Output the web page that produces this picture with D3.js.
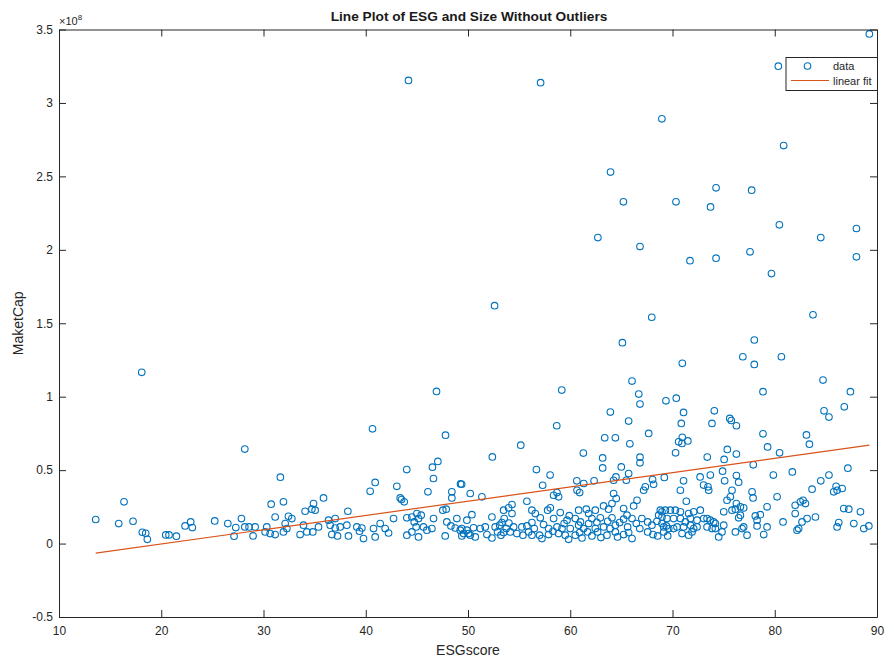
<!DOCTYPE html>
<html>
<head>
<meta charset="utf-8">
<script src="https://d3js.org/d3.v7.min.js"></script>
<style>
  body { margin: 0; background: #fff; }
  text { font-family: "Liberation Sans", Arial, Helvetica, sans-serif; }
</style>
</head>
<body>
<div id="chart"></div>
<script>
// ESG score of each firm (x) and its market cap in units of 1e8 (y), same order
var esgScore = [
    // left group
    18.09,28.17,16.36,13.59,15.84,17.24,18.15,18.48,18.64,20.44,20.76,21.48,22.33,22.88,23.04,25.23,26.51,27.84,27.29,27.12,28.17,28.59,29.18,28.98,
    // 30-50, upper
    46.92,40.66,47.80,31.65,47.05,46.52,44.01,46.62,40.92,49.27,43.50,
    // 30-50, band
    40.43,43.04,46.08,48.42,48.42,35.87,34.89,34.73,35.05,31.95,
    30.75,34.07,38.25,43.37,43.76,47.54,47.87,31.14,32.77,32.44,
    36.36,37.01,42.72,44.02,45.00,45.42,46.63,48.91,49.89,30.32,
    30.16,30.65,31.14,32.12,32.28,31.95,33.91,33.58,34.24,34.82,
    35.38,36.52,37.01,37.50,36.68,37.24,38.15,38.31,39.13,39.39,
    39.62,39.78,40.76,40.92,41.41,41.90,42.23,44.02,44.51,44.74,
    44.93,45.16,45.65,45.98,46.47,47.93,48.33,48.75,49.24,49.40,
    47.77,50.05,44.51,45.16,
    // 50-70, upper
    66.04,59.17,66.70,66.82,69.36,63.92,65.71,58.68,67.67,63.37,
    64.41,65.83,55.16,52.38,61.28,63.17,63.17,66.82,66.82,64.99,
    56.69,58.03,65.71,64.47,64.24,60.64,62.33,61.32,65.48,68.05,
    68.15,69.20,49.38,57.30,
    // 50-70, band
    60.66,60.92,58.70,58.86,58.37,67.18,67.34,64.24,64.50,50.22,
    51.36,55.76,54.30,53.48,53.97,58.05,57.79,56.25,56.58,59.02,
    60.82,61.57,61.80,62.45,63.26,63.75,64.08,65.22,65.55,66.53,
    66.20,68.81,68.65,50.38,52.34,54.30,49.40,49.89,50.54,51.20,
    51.69,52.66,53.32,53.54,53.74,54.46,55.27,55.76,56.25,56.48,
    57.07,57.39,57.88,58.37,58.70,59.19,59.68,60.00,60.49,60.82,
    61.31,61.80,62.12,62.45,62.94,63.26,63.66,64.08,64.41,64.83,
    65.22,65.61,66.04,66.46,67.57,67.99,68.48,68.97,69.40,49.57,
    50.22,50.71,51.85,52.34,52.89,53.22,53.48,54.13,54.78,55.37,
    55.93,56.25,57.00,57.23,57.88,58.31,58.86,59.51,59.84,60.49,
    60.92,61.15,61.70,62.12,62.68,63.00,63.59,64.41,64.63,65.22,
    65.71,66.04,67.57,68.09,68.55,69.14,69.53,53.10,54.00,59.40,
    61.00,63.90,66.80,67.00,59.90,62.60,
    // 70-90, upper
    70.96,78.00,84.72,78.85,87.40,70.37,71.08,74.09,84.82,86.80,
    85.30,70.86,73.86,75.60,75.75,76.25,78.85,83.10,83.39,70.96,
    70.60,71.50,70.93,79.30,70.30,75.36,76.25,80.47,73.40,75.05,
    77.90,87.15,74.90,81.72,79.86,85.30,72.70,73.70,76.25,76.47,
    71.08,75.10,73.04,73.47,84.50,86.00,
    // 70-90, band
    70.77,73.54,75.82,75.66,75.33,77.78,77.88,80.23,83.65,85.77,
    86.10,86.59,71.35,76.25,76.64,76.96,76.15,75.82,75.01,79.25,
    78.59,78.10,82.00,82.77,82.51,83.00,82.00,83.98,83.16,82.67,
    82.34,82.18,86.75,87.24,88.38,86.26,86.10,87.73,88.71,89.20,
    80.81,79.25,78.92,78.27,78.27,76.96,76.80,76.15,77.29,75.01,
    74.84,74.52,74.19,74.03,73.70,73.38,72.72,72.07,71.58,70.77,
    70.28,69.79,69.30,68.97,73.05,72.40,71.75,71.26,70.77,70.11,
    69.46,68.97,69.14,69.63,70.44,71.09,71.75,72.07,72.40,70.93,
    71.58,71.91,70.11,73.38,73.87,74.19,76.47,76.64,
    // big caps
    44.18,57.10,89.25,80.35,68.96,80.87,63.94,74.26,77.74,65.20,
    70.34,73.72,80.45,87.99,62.70,84.50,66.82,77.58,71.71,74.26,
    87.99,79.68,52.60,67.97,83.74,65.10,78.00,76.88,80.65
];

var marketCap = [
    1.166,0.643,0.284,0.164,0.136,0.152,0.077,0.070,0.029,0.059,0.059,0.050,0.120,0.147,0.109,0.154,0.136,0.170,0.109,0.050,0.113,0.113,0.113,0.052,

    1.036,0.781,0.738,0.452,0.559,0.520,0.504,0.443,0.416,0.406,0.300,

    0.356,0.390,0.352,0.352,0.311,0.311,0.272,0.234,0.227,0.284,
    0.268,0.220,0.220,0.311,0.284,0.227,0.234,0.181,0.170,0.186,
    0.159,0.170,0.170,0.175,0.204,0.193,0.170,0.170,0.159,0.113,
    0.079,0.068,0.061,0.136,0.102,0.079,0.125,0.061,0.079,0.079,
    0.113,0.125,0.106,0.113,0.061,0.052,0.125,0.052,0.113,0.084,
    0.106,0.034,0.102,0.045,0.136,0.102,0.072,0.057,0.079,0.147,
    0.113,0.045,0.113,0.091,0.102,0.147,0.120,0.106,0.091,0.052,
    0.052,0.068,0.181,0.170,

    1.106,1.045,1.018,0.950,0.972,0.895,0.834,0.802,0.750,0.720,
    0.720,0.679,0.670,0.590,0.616,0.583,0.515,0.588,0.550,0.522,
    0.504,0.466,0.477,0.454,0.431,0.427,0.427,0.409,0.431,0.436,
    0.404,0.450,0.404,0.397,

    0.363,0.347,0.347,0.318,0.329,0.363,0.386,0.341,0.306,0.341,
    0.318,0.288,0.266,0.227,0.243,0.243,0.227,0.227,0.204,0.211,
    0.227,0.234,0.204,0.227,0.256,0.234,0.272,0.238,0.193,0.295,
    0.256,0.227,0.193,0.197,0.181,0.204,0.102,0.091,0.107,0.102,
    0.113,0.113,0.143,0.170,0.102,0.113,0.113,0.120,0.143,0.102,
    0.175,0.129,0.102,0.170,0.113,0.102,0.159,0.102,0.170,0.125,
    0.102,0.136,0.170,0.102,0.175,0.113,0.152,0.175,0.125,0.143,
    0.166,0.113,0.170,0.136,0.147,0.125,0.152,0.136,0.120,0.068,
    0.057,0.045,0.061,0.038,0.079,0.057,0.075,0.079,0.068,0.057,
    0.079,0.057,0.057,0.034,0.061,0.084,0.068,0.057,0.029,0.057,
    0.075,0.038,0.079,0.052,0.079,0.041,0.057,0.079,0.045,0.061,
    0.075,0.034,0.079,0.061,0.052,0.079,0.052,0.125,0.140,0.136,
    0.147,0.102,0.102,0.170,0.190,0.145,

    1.227,1.220,1.113,1.034,1.034,0.990,0.893,0.904,0.904,0.931,
    0.861,0.818,0.818,0.852,0.838,0.802,0.747,0.740,0.677,0.723,
    0.693,0.699,0.682,0.658,0.618,0.641,0.609,0.618,0.589,0.573,
    0.536,0.513,0.493,0.488,0.466,0.466,0.454,0.466,0.463,0.418,
    0.427,0.427,0.398,0.386,0.427,0.390,

    0.363,0.363,0.363,0.318,0.295,0.352,0.311,0.318,0.370,0.352,
    0.363,0.375,0.288,0.272,0.250,0.243,0.234,0.227,0.216,0.250,
    0.197,0.188,0.261,0.295,0.284,0.272,0.204,0.181,0.170,0.147,
    0.102,0.091,0.238,0.234,0.216,0.143,0.113,0.136,0.102,0.120,
    0.147,0.113,0.061,0.120,0.159,0.113,0.102,0.079,0.057,0.125,
    0.079,0.045,0.102,0.147,0.159,0.170,0.227,0.216,0.204,0.216,
    0.227,0.227,0.227,0.216,0.170,0.159,0.170,0.147,0.170,0.170,
    0.170,0.181,0.113,0.102,0.113,0.113,0.125,0.102,0.113,0.068,
    0.057,0.079,0.102,0.113,0.102,0.136,0.175,0.193,

    3.153,3.138,3.470,3.250,2.892,2.710,2.529,2.422,2.406,2.327,
    2.327,2.292,2.170,2.145,2.083,2.083,2.022,1.986,1.926,1.943,
    1.952,1.838,1.620,1.541,1.558,1.368,1.386,1.272,1.272
];

// linear fit (cap in 1e8 = slope * score + intercept)
var fitSlope = 0.00971;
var fitIntercept = -0.197;

var xTicks = [10, 20, 30, 40, 50, 60, 70, 80, 90];
var yTicks = [-0.5, 0, 0.5, 1, 1.5, 2, 2.5, 3, 3.5];
var legendLabels = ["data", "linear fit"];

var blue = "#0072BD", orange = "#D95319", ink = "#262626";

var width = 894, height = 664;
var box = {left: 59, right: 877, top: 29.5, bottom: 617};

var x = d3.scaleLinear().domain([10, 90]).range([box.left, box.right]);
var y = d3.scaleLinear().domain([-0.5, 3.5]).range([box.bottom, box.top]);

var svg = d3.select("#chart")
    .append("svg")
    .attr("width", width)
    .attr("height", height);

svg.append("rect")
    .attr("width", width)
    .attr("height", height)
    .attr("fill", "#fff");

// scatter
svg.append("g")
    .selectAll("circle")
    .data(d3.range(esgScore.length))
    .enter()
    .append("circle")
    .attr("cx", function(i) { return x(esgScore[i]); })
    .attr("cy", function(i) { return y(marketCap[i]); })
    .attr("r", 3.3)
    .attr("fill", "none")
    .attr("stroke", blue)
    .attr("stroke-width", 1.1);

// fit line over the data range
var xExt = d3.extent(esgScore);
var line = d3.line()
    .x(function(d) { return x(d); })
    .y(function(d) { return y(fitSlope * d + fitIntercept); });

svg.append("path")
    .datum(xExt)
    .attr("d", line)
    .attr("fill", "none")
    .attr("stroke", orange)
    .attr("stroke-width", 1.2);

// axes, ticks pointing inward on all four sides
function styleAxis(g) {
    g.selectAll("path").attr("stroke", ink).attr("stroke-width", 1);
    g.selectAll("line").attr("stroke", ink);
    g.selectAll("text").attr("fill", ink).style("font-size", "12px")
        .style("font-family", '"Liberation Sans", Arial, sans-serif');
}

svg.append("g")
    .attr("transform", "translate(0," + box.bottom + ")")
    .call(d3.axisBottom(x).tickValues(xTicks).tickSize(-7).tickSizeOuter(0).tickPadding(9)
        .tickFormat(function(d) { return d; }))
    .call(styleAxis);

svg.append("g")
    .attr("transform", "translate(0," + box.top + ")")
    .call(d3.axisTop(x).tickValues(xTicks).tickSize(-7).tickSizeOuter(0).tickFormat(""))
    .call(styleAxis);

svg.append("g")
    .attr("transform", "translate(" + box.left + ",0)")
    .call(d3.axisLeft(y).tickValues(yTicks).tickSize(-7).tickSizeOuter(0).tickPadding(6)
        .tickFormat(function(d) { return d; }))
    .call(styleAxis);

svg.append("g")
    .attr("transform", "translate(" + box.right + ",0)")
    .call(d3.axisRight(y).tickValues(yTicks).tickSize(-7).tickSizeOuter(0).tickFormat(""))
    .call(styleAxis);

// exponent marker
var expo = svg.append("text")
    .attr("x", box.left)
    .attr("y", 25)
    .attr("fill", ink)
    .style("font-size", "11px");
expo.append("tspan").text("\u00d710");
expo.append("tspan").attr("dy", -5).style("font-size", "8px").text("8");

// title and labels
svg.append("text")
    .attr("x", 469)
    .attr("y", 20.5)
    .attr("text-anchor", "middle")
    .style("font-size", "13.7px")
    .style("font-weight", "bold")
    .attr("fill", "#1a1a1a")
    .text("Line Plot of ESG and Size Without Outliers");

svg.append("text")
    .attr("x", (box.left + box.right) / 2)
    .attr("y", 655)
    .attr("text-anchor", "middle")
    .style("font-size", "14px")
    .attr("fill", ink)
    .text("ESGscore");

svg.append("text")
    .attr("transform", "translate(23," + (box.top + box.bottom) / 2 + ") rotate(-90)")
    .attr("text-anchor", "middle")
    .style("font-size", "14px")
    .attr("fill", ink)
    .text("MaketCap");

// legend
var legend = svg.append("g")
    .attr("transform", "translate(786,57.5)");

legend.append("rect")
    .attr("width", 91.5)
    .attr("height", 33)
    .attr("fill", "#fff")
    .attr("stroke", ink)
    .attr("stroke-width", 1);

legend.append("circle")
    .attr("cx", 21.5)
    .attr("cy", 8.5)
    .attr("r", 3.3)
    .attr("fill", "none")
    .attr("stroke", blue)
    .attr("stroke-width", 1.1);

legend.append("line")
    .attr("x1", 5)
    .attr("x2", 43)
    .attr("y1", 23)
    .attr("y2", 23)
    .attr("stroke", orange)
    .attr("stroke-width", 1.2);

legend.selectAll("text.lab")
    .data(legendLabels)
    .enter()
    .append("text")
    .attr("class", "lab")
    .attr("x", 47)
    .attr("y", function(d, i) { return 12.5 + i * 14.5; })
    .attr("fill", ink)
    .style("font-size", "11px")
    .text(function(d) { return d; });
</script>
</body>
</html>
